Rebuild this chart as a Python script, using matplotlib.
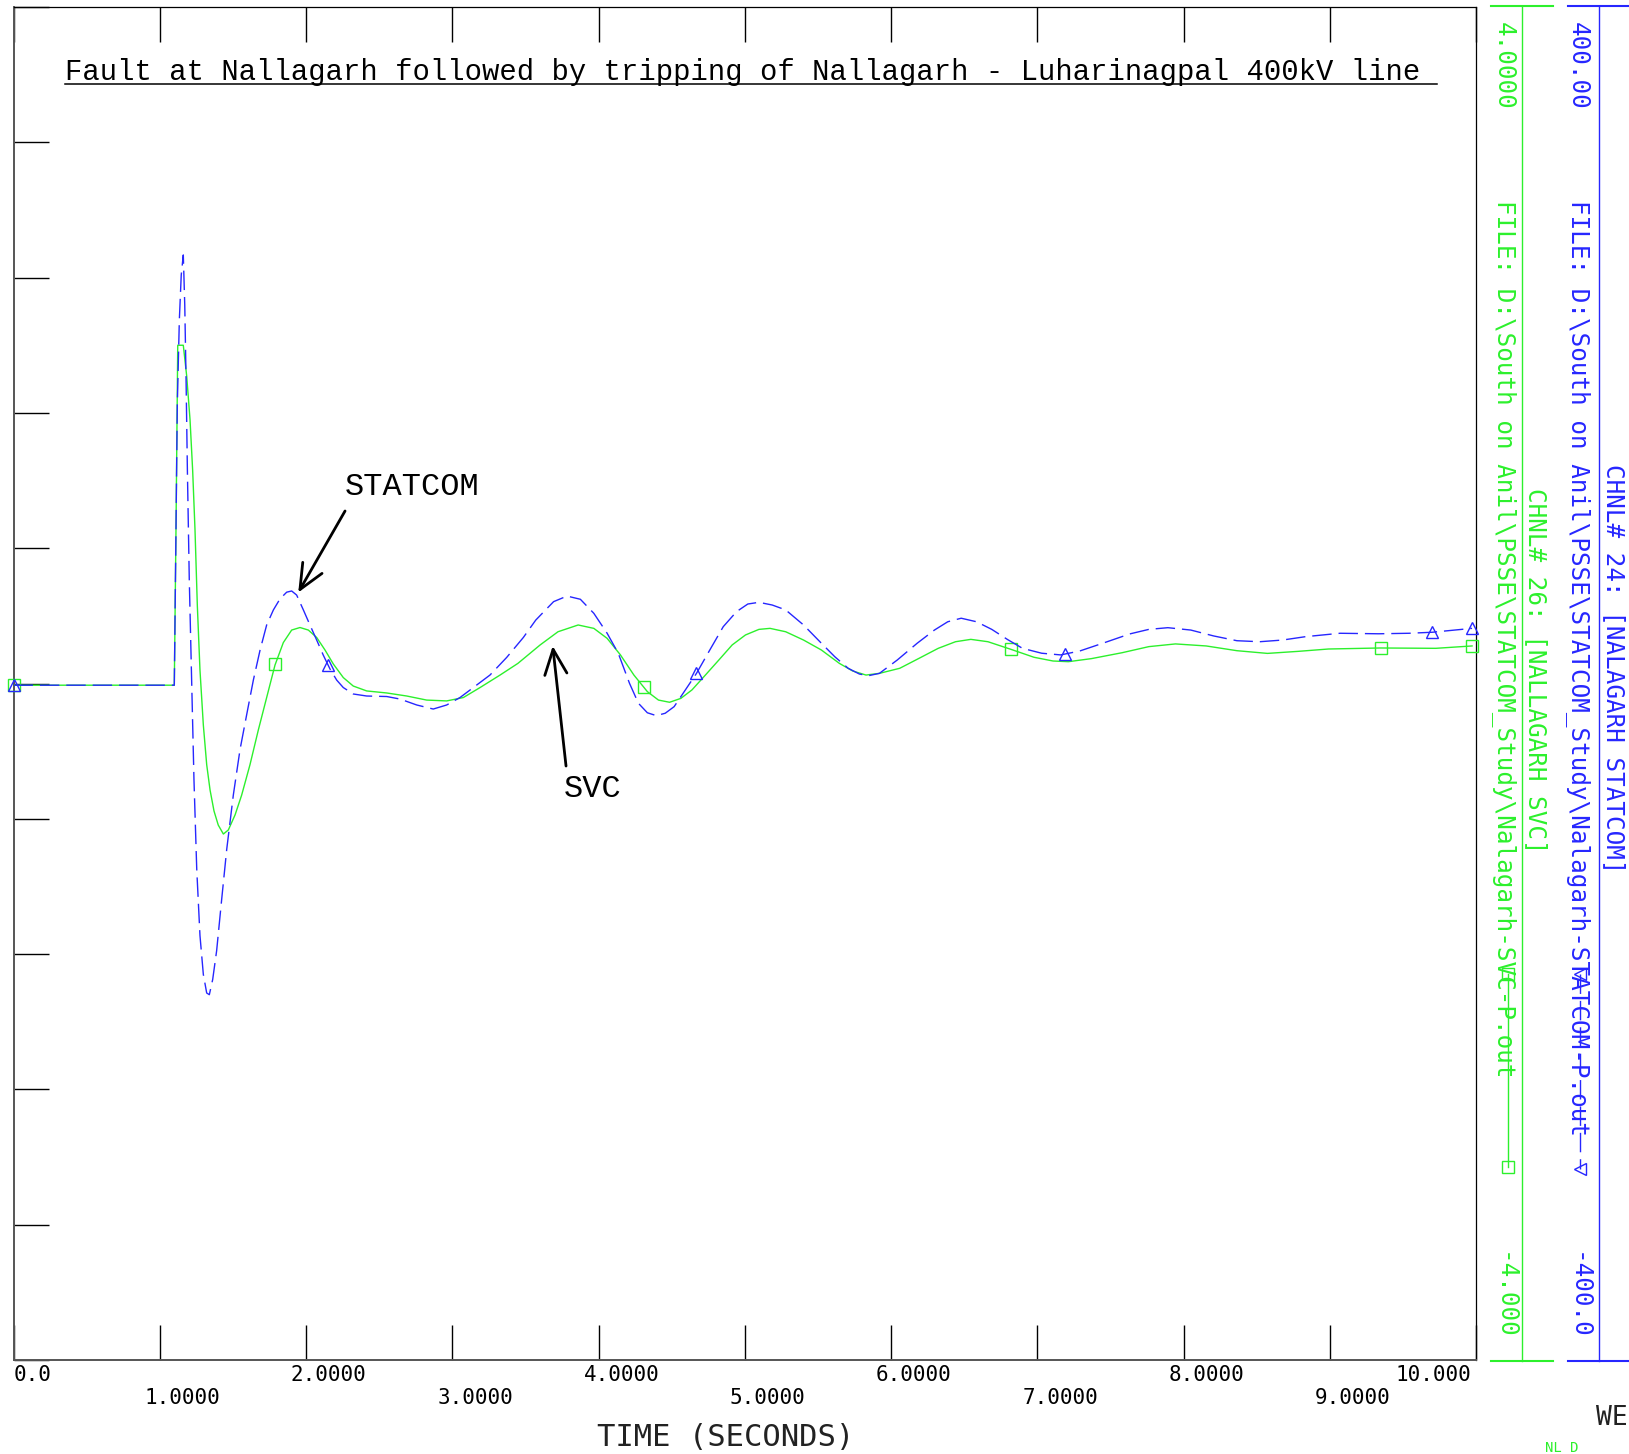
import numpy as np
import matplotlib.pyplot as plt

# CHNL# 26 : NALLAGARH SVC  (scale -4.0 .. 4.0)
svc_t = [0.0, 1.0995, 1.111, 1.123, 1.13, 1.161, 1.184, 1.207, 1.225, 1.241,
         1.257, 1.275, 1.298, 1.321, 1.344, 1.371, 1.40, 1.435, 1.469, 1.515,
         1.560, 1.617, 1.674, 1.731, 1.788, 1.845, 1.902, 1.959, 2.016, 2.073,
         2.13, 2.187, 2.255, 2.323, 2.415, 2.552, 2.689, 2.825, 2.962, 3.076,
         3.19, 3.327, 3.449, 3.601, 3.723, 3.861, 3.968, 4.059, 4.15, 4.242,
         4.334, 4.41, 4.486, 4.563, 4.639, 4.731, 4.823, 4.914, 5.005, 5.097,
         5.173, 5.28, 5.402, 5.524, 5.647, 5.738, 5.829, 5.921, 6.06, 6.192,
         6.323, 6.441, 6.546, 6.663, 6.82, 6.978, 7.108, 7.213, 7.37, 7.58,
         7.763, 7.945, 8.155, 8.365, 8.574, 8.783, 8.992, 9.346, 9.725, 9.973]
svc_v = [-0.01, -0.01, 0.908, 2.0, 2.0, 2.0, 1.82, 1.56, 1.26, 0.91,
         0.46, 0.08, -0.245, -0.48, -0.63, -0.754, -0.837, -0.89, -0.866, -0.777,
         -0.66, -0.48, -0.275, -0.083, 0.109, 0.242, 0.316, 0.331, 0.316, 0.272,
         0.198, 0.115, 0.035, -0.015, -0.044, -0.056, -0.074, -0.098, -0.103, -0.083,
         -0.024, 0.05, 0.119, 0.228, 0.306, 0.346, 0.326, 0.267, 0.169, 0.05,
         -0.048, -0.098, -0.111, -0.088, -0.038, 0.05, 0.139, 0.228, 0.287, 0.32,
         0.326, 0.306, 0.257, 0.198, 0.119, 0.074, 0.05, 0.06, 0.09, 0.149,
         0.208, 0.247, 0.261, 0.247, 0.202, 0.155, 0.133, 0.129, 0.147, 0.182,
         0.218, 0.234, 0.222, 0.194, 0.178, 0.19, 0.204, 0.21, 0.208, 0.222]

# CHNL# 24 : NALAGARH STATCOM  (scale -400 .. 400)
stat_t = [0.0, 1.0995, 1.111, 1.120, 1.134, 1.147, 1.161, 1.171, 1.180, 1.189,
          1.202, 1.218, 1.234, 1.253, 1.275, 1.298, 1.321, 1.339, 1.362, 1.389,
          1.423, 1.458, 1.503, 1.549, 1.594, 1.640, 1.686, 1.731, 1.777, 1.822,
          1.868, 1.902, 1.936, 1.982, 2.027, 2.073, 2.118, 2.164, 2.21, 2.255,
          2.323, 2.415, 2.552, 2.643, 2.757, 2.870, 2.962, 3.053, 3.144, 3.258,
          3.372, 3.486, 3.571, 3.693, 3.785, 3.876, 3.968, 4.059, 4.135, 4.212,
          4.273, 4.334, 4.395, 4.456, 4.517, 4.594, 4.67, 4.761, 4.853, 4.944,
          5.021, 5.097, 5.188, 5.28, 5.402, 5.524, 5.616, 5.707, 5.784, 5.845,
          5.921, 6.043, 6.179, 6.297, 6.388, 6.48, 6.585, 6.689, 6.795, 6.899,
          7.03, 7.16, 7.29, 7.448, 7.632, 7.763, 7.893, 8.05, 8.207, 8.365,
          8.521, 8.678, 8.835, 9.07, 9.333, 9.542, 9.70, 9.973]
stat_v = [-1, -1, 90.8, 164.7, 215, 241.6, 253.4, 223.8, 179.5, 126,
          61, 2, -57, -110, -149, -172, -183, -184, -175, -158,
          -128, -98, -66, -39, -18.6, 2, 19.8, 34.6, 43.5, 50,
          54, 54.7, 52.3, 43.5, 34.6, 25.7, 16.8, 8.6, 2, -2.4,
          -6.2, -7.4, -7.7, -9.2, -12.7, -15.1, -12.7, -8.3, -2.4, 5,
          15.4, 27.2, 37.5, 48.4, 51.7, 49.8, 41.5, 29.7, 17.9, 0.1,
          -11.7, -17.3, -19, -17.6, -13.7, -3.8, 6, 19.8, 33.6, 42.5,
          47, 48, 46.4, 43.5, 34.6, 23.8, 15.8, 9, 5.6, 4.6,
          6, 13.9, 23.8, 31.6, 36.5, 38.6, 36.5, 32, 26.1, 20.8,
          17.9, 16.9, 19.2, 23.8, 29.3, 32, 33, 31.6, 28.1, 25.3,
          24.7, 25.7, 27.7, 29.7, 29.4, 29.7, 30.3, 32.6]

svc_mark_t = [0.0, 1.79, 4.31, 6.82, 9.35, 9.973]
stat_mark_t = [0.0, 2.15, 4.67, 7.19, 9.70, 9.973]

x_ticks = np.arange(0, 11)
x_labels = ["0.0", "1.0000", "2.0000", "3.0000", "4.0000", "5.0000",
            "6.0000", "7.0000", "8.0000", "9.0000", "10.000"]

title = "Fault at Nallagarh followed by tripping of Nallagarh - Luharinagpal 400kV line"
svc_file = "FILE: D:\\South on Anil\\PSSE\\STATCOM_Study\\Nalagarh-SVC-P.out"
stat_file = "FILE: D:\\South on Anil\\PSSE\\STATCOM_Study\\Nalagarh-STATCOM-P.out"

green = '#2cf02c'
blue = '#2626ff'
W, H = 1629, 1454

fig = plt.figure(figsize=(W/100, H/100), dpi=100)
ax = fig.add_axes([13.5/W, 1 - 1360/H, 1462.5/W, 1353/H])
ax.set_xlim(0, 10)
ax.set_ylim(-4, 4)
ax.set_xticks(x_ticks)
ax.set_yticks(np.linspace(-4, 4, 11))
ax.tick_params(direction='in', length=25, width=1, top=True, right=True,
               labelbottom=False, labelleft=False, colors='black')
for s in ['left', 'bottom']:
    ax.spines[s].set_color('#555555')
    ax.spines[s].set_linewidth(1.4)
for s in ['top', 'right']:
    ax.spines[s].set_color('black')
    ax.spines[s].set_linewidth(0.9)

ax2 = ax.twinx()
ax2.set_ylim(-400, 400)
ax2.set_yticks([])
for s in ax2.spines.values():
    s.set_visible(False)

ax.plot(svc_t, svc_v, color=green, lw=1.0, zorder=3)
ax.plot(svc_mark_t, np.interp(svc_mark_t, svc_t, svc_v), ls='none', marker='s',
        ms=8, mfc='none', mec=green, mew=1.0, zorder=3, clip_on=False)
ax2.plot(stat_t, stat_v, color=blue, lw=1.0, dashes=(14, 5), zorder=3)
ax2.plot(stat_mark_t, np.interp(stat_mark_t, stat_t, stat_v), ls='none', marker='^',
         ms=8, mfc='none', mec=blue, mew=1.0, zorder=3, clip_on=False)

# annotations
arrow = dict(arrowstyle='->,head_length=0.9,head_width=0.4', lw=2, color='black',
             shrinkA=0, shrinkB=0, mutation_scale=20)
ax.annotate('', xy=(1.947, 0.538), xytext=(2.267, 1.02), arrowprops=arrow)
ax.text(2.267, 1.115, "STATCOM", family='Liberation Mono', fontsize=23,
        ha='left', va='baseline')
ax.annotate('', xy=(3.687, 0.222), xytext=(3.778, -0.488), arrowprops=arrow)
ax.text(3.764, -0.67, "SVC", family='Liberation Mono', fontsize=23,
        ha='left', va='baseline')

# overlay in pixel coordinates for the PSS/E style frame texts
ov = fig.add_axes([0, 0, 1, 1])
ov.set_xlim(0, W)
ov.set_ylim(H, 0)
ov.axis('off')
ov.patch.set_visible(False)

ov.text(65, 80, title, family='Liberation Mono', fontsize=20.8,
        ha='left', va='baseline')
ov.plot([65, 1437], [84, 84], color='black', lw=1.1)

mono = 'DejaVu Sans Mono'
for i, lab in zip(x_ticks, x_labels):
    px = 13.5 + i*146.25
    y = 1375 if i % 2 == 0 else 1398
    if i == 0:
        ov.text(14, y, lab, family=mono, fontsize=15, ha='left', va='center')
    elif i == 10:
        ov.text(1471, y, lab, family=mono, fontsize=15, ha='right', va='center')
    else:
        ov.text(px - 15, y, lab, family=mono, fontsize=15, ha='left', va='center')
ov.text(597, 1438, "TIME (SECONDS)", family=mono, fontsize=22, ha='left',
        va='center', color='#222222')

# right side channel scales
ov.plot([1522, 1522], [6, 1361], color=green, lw=1.0)
ov.plot([1491, 1553], [6, 6], color=green, lw=1.5)
ov.plot([1491, 1553], [1361, 1361], color=green, lw=1.5)
ov.plot([1599, 1599], [6, 1361], color=blue, lw=1.0)
ov.plot([1568, 1629], [6, 6], color=blue, lw=1.5)
ov.plot([1568, 1629], [1361, 1361], color=blue, lw=1.5)

fs = 17.5
ov.text(1504, 22, "4.0000", family=mono, fontsize=fs, color=green, rotation=-90,
        ha='center', va='top')
ov.text(1504, 200, svc_file, family=mono, fontsize=fs, color=green, rotation=-90,
        ha='center', va='top')
ov.text(1504, 1340, "-4.000", family=mono, fontsize=fs, color=green, rotation=-90,
        ha='center', va='bottom')
ov.text(1536, 488, "CHNL# 26: [NALLAGARH SVC]", family=mono, fontsize=fs,
        color=green, rotation=-90, ha='center', va='top')
ov.plot([1508, 1508], [974, 1167], color=green, lw=1.0)
ov.plot([1508, 1508], [974, 1167], ls='none', marker='s', ms=8, mfc='none',
        mec=green, mew=1.0)

ov.text(1578, 22, "400.00", family=mono, fontsize=fs, color=blue, rotation=-90,
        ha='center', va='top')
ov.text(1578, 200, stat_file, family=mono, fontsize=fs, color=blue, rotation=-90,
        ha='center', va='top')
ov.text(1578, 1340, "-400.0", family=mono, fontsize=fs, color=blue, rotation=-90,
        ha='center', va='bottom')
ov.text(1614, 464, "CHNL# 24: [NALAGARH STATCOM]", family=mono, fontsize=fs,
        color=blue, rotation=-90, ha='center', va='top')
ov.plot([1580, 1580], [974, 1169], color=blue, lw=1.0, dashes=(14, 5))
ov.plot([1580, 1580], [974, 1169], ls='none', marker='<', ms=8, mfc='none',
        mec=blue, mew=1.0)

# page footer remnants at the bottom right corner
ov.text(1596, 1418, "WE", family=mono, fontsize=19, ha='left', va='center',
        color='#222222')
ov.text(1545, 1441, "NL D", family=mono, fontsize=10, ha='left', va='top',
        color=green)

fig.savefig('out.png', dpi=100)
